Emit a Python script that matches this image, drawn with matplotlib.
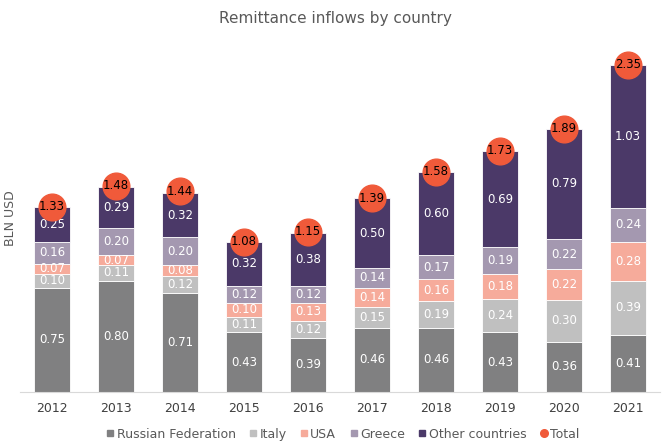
import numpy as np
import matplotlib.pyplot as plt
from matplotlib.lines import Line2D

years = ["2012", "2013", "2014", "2015", "2016", "2017", "2018", "2019", "2020", "2021"]
russia = [0.75, 0.80, 0.71, 0.43, 0.39, 0.46, 0.46, 0.43, 0.36, 0.41]
italy = [0.10, 0.11, 0.12, 0.11, 0.12, 0.15, 0.19, 0.24, 0.30, 0.39]
usa = [0.07, 0.07, 0.08, 0.10, 0.13, 0.14, 0.16, 0.18, 0.22, 0.28]
greece = [0.16, 0.20, 0.20, 0.12, 0.12, 0.14, 0.17, 0.19, 0.22, 0.24]
other = [0.25, 0.29, 0.32, 0.32, 0.38, 0.50, 0.60, 0.69, 0.79, 1.03]
total = [1.33, 1.48, 1.44, 1.08, 1.15, 1.39, 1.58, 1.73, 1.89, 2.35]

series = [
    ("Russian Federation", russia, "#808081"),
    ("Italy", italy, "#c0c0c0"),
    ("USA", usa, "#f6ab9b"),
    ("Greece", greece, "#a498b0"),
    ("Other countries", other, "#4b3968"),
]

fig = plt.figure(figsize=(6.7, 4.41), dpi=100)
ax = fig.add_axes([0.03, 0.111, 0.955, 0.79])

x = np.arange(len(years))
bottom = np.zeros(len(years))
for name, vals, col in series:
    vals = np.array(vals)
    ax.bar(x, vals, 0.56, bottom=bottom, color=col, edgecolor="white",
           linewidth=0.6, label=name)
    for xi, b, v in zip(x, bottom, vals):
        ax.text(xi, b + v / 2, f"{v:.2f}", ha="center", va="center",
                color="white", fontsize=8.5)
    bottom += vals

ax.scatter(x, total, s=370, color="#f05a3a", zorder=3, label="Total")
for xi, t in zip(x, total):
    ax.text(xi, t, f"{t:.2f}", ha="center", va="center", color="black",
            fontsize=8.5, zorder=4)

ax.set_xlim(-0.5, len(years) - 0.5)
ax.set_ylim(0, 2.5)
ax.set_xticks(x)
ax.set_xticklabels(years, fontsize=9, color="#404040")
ax.tick_params(axis="x", length=0, pad=7)
ax.set_yticks([])
for s in ["top", "right", "left"]:
    ax.spines[s].set_visible(False)
ax.spines["bottom"].set_color("#d9d9d9")
ax.set_ylabel("BLN USD", fontsize=9, color="#595959", labelpad=2)
fig.suptitle("Remittance inflows by country", y=0.975, fontsize=11, color="#595959")

handles = [Line2D([], [], marker="s", linestyle="", color=c, markersize=5)
           for _, _, c in series]
handles.append(Line2D([], [], marker="o", linestyle="", color="#f05a3a", markersize=5.5))
labels = [n for n, _, _ in series] + ["Total"]
fig.legend(handles, labels, loc="lower center", bbox_to_anchor=(0.51, -0.025),
           ncol=6, frameon=False, fontsize=9, handletextpad=0.0,
           handlelength=1.0, columnspacing=0.9, labelcolor="#595959")

fig.savefig("out.png", dpi=100)
